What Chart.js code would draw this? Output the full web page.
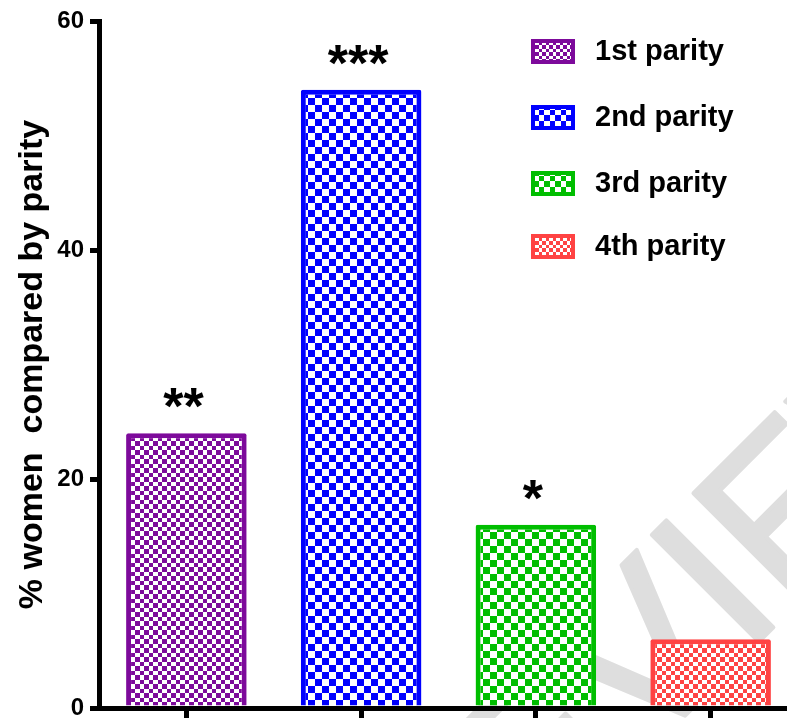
<!DOCTYPE html>
<html>
<head>
<meta charset="utf-8">
<script src="https://cdn.jsdelivr.net/npm/chart.js@4/dist/chart.umd.min.js"></script>
<style>
  html, body { margin: 0; padding: 0; overflow: hidden; background: #fff; }
  #wrap { width: 798px; height: 718px; }
</style>
</head>
<body>
<div id="wrap"><canvas id="parityChart"></canvas></div>
<script>
// data
const categories = ['1st parity', '2nd parity', '3rd parity', '4th parity'];
const values = [24, 54, 16, 6];
const stars = ['**', '***', '*', ''];
const yTicks = [0, 20, 40, 60];

const barColors = ['#7D0A9B', '#0000FF', '#00BE00', '#FF4343'];
const cellSizes = [4.5, 7, 7, 4.5];
const FONT = "'Liberation Sans', Arial, sans-serif";

// checkerboard fill, like the GraphPad pattern
function makePattern(color, cell) {
    const size = Math.round(cell * 2);
    const c = document.createElement('canvas');
    c.width = size; c.height = size;
    const g = c.getContext('2d');
    const a = Math.round(cell);
    g.fillStyle = '#fff';
    g.fillRect(0, 0, size, size);
    g.fillStyle = color;
    g.fillRect(0, 0, a, a);
    g.fillRect(a, a, size - a, size - a);
    return g.createPattern(c, 'repeat');
}

const canvas = document.getElementById('parityChart');
const ctx = canvas.getContext('2d');
const patterns = barColors.map((c, i) => makePattern(c, cellSizes[i]));
const legendPatterns = barColors.map((c, i) => makePattern(c, cellSizes[i] * 0.75));

// faint diagonal "REVIEW" watermark behind everything
const watermarkPlugin = {
    id: 'watermark',
    beforeDraw(chart) {
        const c = chart.ctx;
        const fs = 220;
        c.save();
        c.font = fs + 'px ' + FONT;
        const xI = c.measureText('REV').width + 0.14 * fs;
        const yI = -0.716 * fs;
        const k = Math.SQRT1_2;
        // put the top of the "I" stroke where it sits in the figure
        const px = 655, py = 523;
        const ox = px - xI * k - yI * k;
        const oy = py + xI * k - yI * k;
        c.translate(ox, oy);
        c.rotate(-Math.PI / 4);
        c.fillStyle = '#dedede';
        c.strokeStyle = '#dedede';
        c.lineWidth = 4;
        c.lineJoin = 'round';
        c.textAlign = 'left';
        c.textBaseline = 'alphabetic';
        c.fillText('REVIEW', 0, 0);
        c.strokeText('REVIEW', 0, 0);
        c.restore();
    }
};

// stars above bars
const starPlugin = {
    id: 'stars',
    afterDatasetsDraw(chart) {
        const meta = chart.getDatasetMeta(0);
        const c = chart.ctx;
        c.save();
        c.fillStyle = '#000';
        c.font = 'bold 52px ' + FONT;
        c.textAlign = 'center';
        c.textBaseline = 'alphabetic';
        meta.data.forEach((bar, i) => {
            if (stars[i]) c.fillText(stars[i], bar.x - 3, bar.y - 9);
        });
        c.restore();
    }
};

// legend in the top right corner
const legendPlugin = {
    id: 'cornerLegend',
    afterDraw(chart) {
        const c = chart.ctx;
        const rows = [51, 117, 183, 246];
        c.save();
        categories.forEach((label, i) => {
            const y = rows[i];
            c.fillStyle = legendPatterns[i];
            c.fillRect(531, y - 12, 44, 25);
            c.strokeStyle = barColors[i];
            c.lineWidth = 4;
            c.strokeRect(533, y - 10, 40, 21);
            c.fillStyle = '#000';
            c.font = 'bold 29px ' + FONT;
            c.textAlign = 'left';
            c.textBaseline = 'middle';
            c.fillText(label, 595, y + 1);
        });
        c.restore();
    }
};

new Chart(ctx, {
    type: 'bar',
    data: {
        labels: categories,
        datasets: [{
            data: values,
            backgroundColor: patterns,
            borderColor: barColors,
            borderWidth: 5,
            borderRadius: 2,
            borderSkipped: 'bottom',
            barPercentage: 0.69,
            categoryPercentage: 1
        }]
    },
    options: {
        responsive: true,
        maintainAspectRatio: false,
        animation: false,
        layout: { padding: { top: 21, left: 0, right: 0, bottom: 0 } },
        plugins: {
            legend: { display: false },
            tooltip: { enabled: false }
        },
        scales: {
            x: {
                afterFit(scale) { scale.height = 10; },
                grid: {
                    offset: false,
                    drawOnChartArea: false,
                    drawTicks: true,
                    tickLength: 12,
                    color: '#000',
                    lineWidth: 5
                },
                border: { color: '#000', width: 5 },
                ticks: { display: false }
            },
            y: {
                min: 0,
                max: 60,
                afterBuildTicks(scale) {
                    scale.ticks = yTicks.map(v => ({ value: v }));
                },
                afterFit(scale) {
                    scale.width = 99;
                    scale.paddingTop = 0;
                    scale.paddingBottom = 0;
                },
                grid: {
                    drawOnChartArea: false,
                    drawTicks: true,
                    tickLength: 9,
                    color: '#000',
                    lineWidth: 5
                },
                border: { color: '#000', width: 5 },
                ticks: {
                    color: '#000',
                    padding: 6,
                    font: { family: FONT, size: 24, weight: 'bold' }
                },
                title: {
                    display: true,
                    text: '% women  compared by parity',
                    color: '#000',
                    padding: { top: 12, bottom: 0 },
                    font: { family: FONT, size: 34, weight: 'bold', lineHeight: 1.2 }
                }
            }
        }
    },
    plugins: [watermarkPlugin, starPlugin, legendPlugin]
});
</script>
</body>
</html>
